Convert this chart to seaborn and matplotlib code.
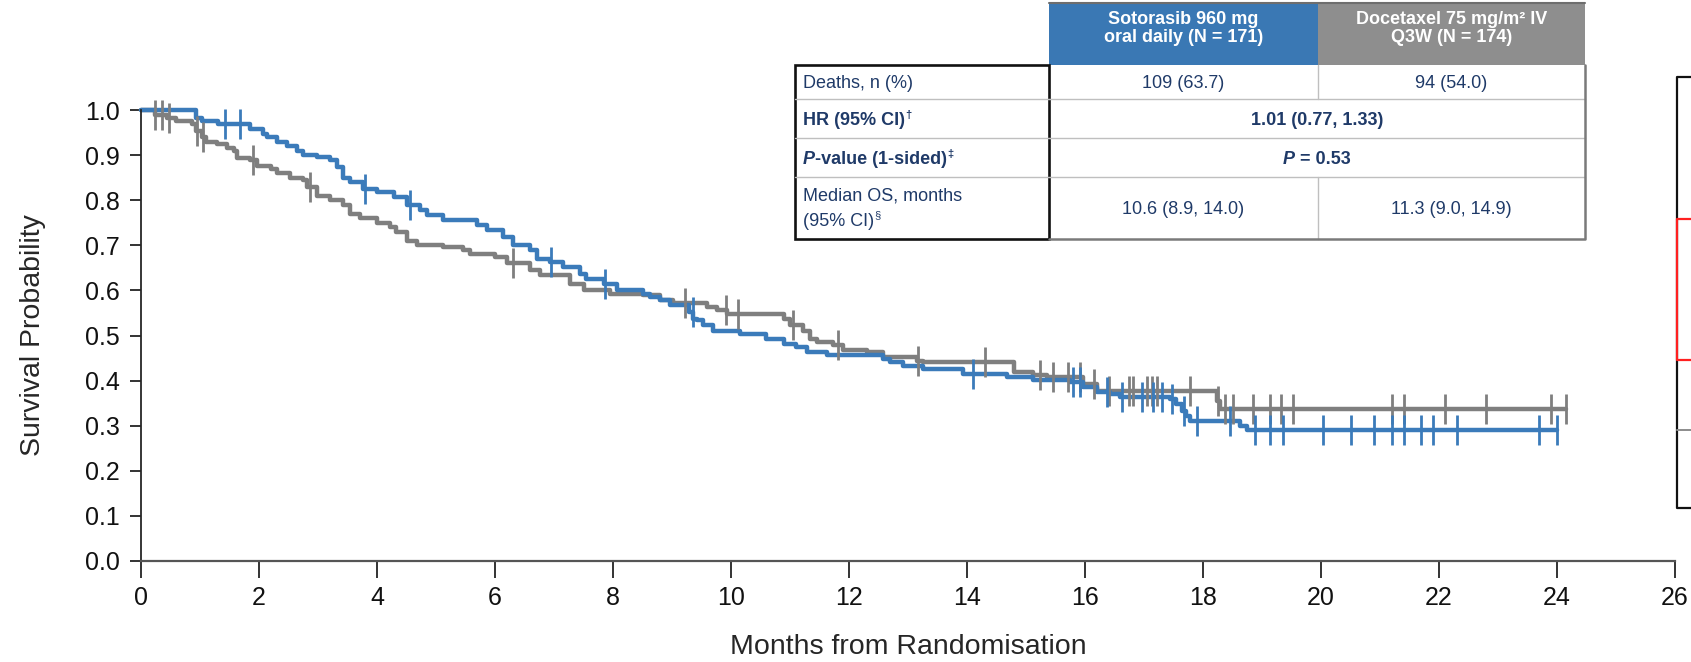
import numpy as np
import pandas as pd
import matplotlib.pyplot as plt
import matplotlib.patches as mpatches
import seaborn as sns

W, H = 1691, 662

# Kaplan-Meier steps: month of step, survival after it
soto_t = [0, 0.94, 1.03, 1.30, 1.85, 2.07, 2.13, 2.30, 2.47, 2.64, 2.75, 2.98, 3.20,
          3.32, 3.43, 3.54, 3.77, 4.00, 4.28, 4.50, 4.73, 4.84, 5.12, 5.69, 5.86, 6.14,
          6.31, 6.59, 6.71, 6.93, 7.16, 7.44, 7.55, 7.84, 8.06, 8.51, 8.63, 8.80, 8.97,
          9.28, 9.36, 9.42, 9.53, 9.70, 10.15, 10.60, 10.89, 11.11, 11.28, 11.62, 12.58,
          12.70, 12.92, 13.26, 13.94, 14.68, 15.12, 15.75, 15.97, 16.20, 16.42, 16.59,
          17.44, 17.55, 17.64, 17.72, 17.78, 18.63, 18.75]
soto_s = [1.0, 0.983, 0.975, 0.968, 0.957, 0.946, 0.94, 0.93, 0.92, 0.91, 0.90, 0.895, 0.89,
          0.874, 0.85, 0.84, 0.825, 0.818, 0.807, 0.79, 0.778, 0.767, 0.756, 0.745, 0.733, 0.718,
          0.70, 0.69, 0.67, 0.664, 0.652, 0.637, 0.626, 0.615, 0.60, 0.593, 0.586, 0.578, 0.567,
          0.552, 0.537, 0.534, 0.523, 0.511, 0.504, 0.493, 0.482, 0.474, 0.463, 0.456, 0.448,
          0.441, 0.433, 0.426, 0.415, 0.408, 0.402, 0.396, 0.385, 0.374, 0.37, 0.363,
          0.359, 0.348, 0.333, 0.322, 0.311, 0.30, 0.29]
soto_end = 24.0
soto_cens = [1.42, 1.68, 3.80, 4.56, 6.95, 7.86, 9.35, 14.10, 15.80, 15.92, 16.37, 16.62,
             16.96, 17.16, 17.30, 17.47, 17.67, 17.89, 18.46, 18.88, 19.13, 19.36, 20.04,
             20.5, 20.9, 21.2, 21.4, 21.7, 21.9, 22.3, 23.7, 24.0]

doce_t = [0, 0.24, 0.44, 0.60, 0.86, 0.94, 1.03, 1.11, 1.28, 1.45, 1.57, 1.62, 1.85, 1.97,
          2.20, 2.30, 2.53, 2.75, 2.81, 2.98, 3.20, 3.43, 3.54, 3.71, 4.00, 4.22, 4.33, 4.50,
          4.67, 5.12, 5.46, 5.57, 6.00, 6.20, 6.59, 6.76, 7.27, 7.50, 7.95, 8.51, 8.80, 9.02,
          9.59, 9.76, 9.93, 10.89, 11.00, 11.22, 11.34, 11.45, 11.73, 11.90, 12.30, 12.58,
          13.15, 13.26, 14.79, 15.12, 15.35, 15.97, 16.20, 18.23, 18.29]
doce_s = [1.0, 0.99, 0.983, 0.975, 0.968, 0.953, 0.94, 0.93, 0.925, 0.915, 0.91, 0.893, 0.89, 0.875,
          0.87, 0.86, 0.85, 0.845, 0.83, 0.81, 0.80, 0.79, 0.77, 0.76, 0.75, 0.74, 0.73, 0.71,
          0.70, 0.696, 0.69, 0.68, 0.675, 0.66, 0.645, 0.635, 0.615, 0.60, 0.593, 0.589, 0.578, 0.571,
          0.563, 0.556, 0.548, 0.537, 0.523, 0.511, 0.493, 0.485, 0.478, 0.467, 0.463, 0.452,
          0.444, 0.441, 0.419, 0.412, 0.408, 0.393, 0.378, 0.355, 0.337]
doce_end = 24.15
doce_cens = [0.24, 0.36, 0.47, 0.95, 1.05, 1.90, 2.86, 6.30, 9.22, 9.91, 10.12, 11.05, 11.82,
             13.17, 14.30, 15.24, 15.46, 15.72, 15.92, 16.15, 16.40, 16.74, 16.82, 17.05,
             17.13, 17.22, 17.78, 18.26, 18.37, 18.51, 18.85, 19.13, 19.33, 19.53, 21.2,
             21.4, 22.1, 22.8, 23.9, 24.15]

x_ticks = list(range(0, 27, 2))
y_ticks = [round(0.1 * i, 1) for i in range(11)]

BLUE = "#3B7BBA"
GREY = "#7F7F7F"
TXT = "#1F3A68"

sns.set_style("ticks")
plt.rcParams["font.family"] = ["Liberation Sans", "DejaVu Sans"]

fig = plt.figure(figsize=(W / 100, H / 100), dpi=100)
x0, x26, y1, y0 = 141, 1675, 110, 561
ax = fig.add_axes([x0 / W, 1 - y0 / H, (x26 - x0) / W, (y0 - y1) / H])


def steps(t, s, end):
    return pd.DataFrame({"month": list(t) + [end], "surv": list(s) + [s[-1]]})


def marks(t, s, cens):
    idx = np.searchsorted(np.asarray(t), np.asarray(cens), side="right") - 1
    return pd.DataFrame({"month": cens, "surv": np.asarray(s)[idx]})


for t, s, end, cens, col in [(doce_t, doce_s, doce_end, doce_cens, GREY),
                              (soto_t, soto_s, soto_end, soto_cens, BLUE)]:
    sns.lineplot(data=steps(t, s, end), x="month", y="surv", drawstyle="steps-post",
                 estimator=None, sort=False, color=col, lw=3.2, ax=ax, clip_on=False)
    sns.scatterplot(data=marks(t, s, cens), x="month", y="surv", marker="|", s=21 ** 2,
                    linewidth=2.0, color=col, ax=ax, clip_on=False, zorder=3)

ax.set_xlim(0, 26)
ax.set_ylim(0, 1)
ax.set_xticks(x_ticks)
ax.set_yticks(y_ticks)
ax.set_yticklabels([f"{v:.1f}" for v in y_ticks])
ax.tick_params(axis="y", length=8, width=1.2, pad=7, labelsize=18, colors="#111111")
ax.tick_params(axis="x", length=12, width=1.2, pad=6, labelsize=18, colors="#111111")
sns.despine(ax=ax)
ax.spines["left"].set_linewidth(1.3)
ax.spines["bottom"].set_linewidth(1.6)
ax.spines["bottom"].set_color("#555555")
ax.set_xlabel("Months from Randomisation", fontsize=20.5)
ax.set_ylabel("Survival Probability", fontsize=20.5)
ax.xaxis.set_label_coords(0.5, -(634 - y0) / (y0 - y1), transform=ax.transAxes)
ax.yaxis.set_label_coords((46 - x0) / (x26 - x0), 0.5, transform=ax.transAxes)

# overlay in pixel coordinates for the table and the clipped box at right
ov = fig.add_axes([0, 0, 1, 1], zorder=5)
ov.set_xlim(0, W)
ov.set_ylim(H, 0)
ov.axis("off")
ov.patch.set_alpha(0)
renderer = fig.canvas.get_renderer()

cl, c1, c2, cr = 795, 1049, 1318, 1585
rows = [65, 99, 138, 177, 239]

ov.add_patch(mpatches.Rectangle((c1, 3), c2 - c1, 62, fc="#3A78B4", ec="none"))
ov.add_patch(mpatches.Rectangle((c2, 3), cr - c2, 62, fc="#8E8E8E", ec="none"))
ov.plot([c1, cr], [3, 3], color="#6E6E6E", lw=1.5)
ov.add_patch(mpatches.Rectangle((c1, rows[0]), cr - c1, rows[-1] - rows[0], fc="white", ec="none"))
for r in rows[1:-1]:
    ov.plot([c1, cr], [r, r], color="#BFBFBF", lw=1)
for a, b in [(rows[0], rows[1]), (rows[3], rows[4])]:
    ov.plot([c2, c2], [a, b], color="#BFBFBF", lw=1)
ov.plot([cr, cr, c1], [rows[0], rows[-1], rows[-1]], color="#7A7A7A", lw=1.8)
ov.add_patch(mpatches.Rectangle((cl, rows[0]), c1 - cl, rows[-1] - rows[0], fc="none",
                                ec="#111111", lw=1.9))
for r in rows[1:-1]:
    ov.plot([cl, c1], [r, r], color="#BFBFBF", lw=1)


def runs(x, y, parts, ha="left", color=TXT, size=13):
    arts = []
    for txt, weight, style, sup in parts:
        fs = size * 0.62 if sup else size
        t = ov.text(0, 0, txt, fontsize=fs, fontweight=weight, fontstyle=style,
                    color=color, va="baseline", ha="left")
        arts.append((t, t.get_window_extent(renderer).width, sup))
    total = sum(w for _, w, _ in arts)
    cx = x - total / 2 if ha == "center" else x
    for t, w, sup in arts:
        t.set_position((cx, y - 7 if sup else y))
        cx += w


N, B = "normal", "bold"
lx = 803
runs(lx, 88.5, [("Deaths, n (%)", N, N, False)])
runs(lx, 125, [("HR (95% CI)", B, N, False), ("†", B, N, True)])
runs(lx, 164, [("P", B, "italic", False), ("-value (1-sided)", B, N, False), ("‡", B, N, True)])
runs(lx, 200.5, [("Median OS, months", N, N, False)])
runs(lx, 225.5, [("(95% CI)", N, N, False), ("§", N, N, True)])

m1, m2, mm = (c1 + c2) / 2, (c2 + cr) / 2, (c1 + cr) / 2
runs(m1, 88.5, [("109 (63.7)", N, N, False)], ha="center")
runs(m2, 88.5, [("94 (54.0)", N, N, False)], ha="center")
runs(mm, 125, [("1.01 (0.77, 1.33)", B, N, False)], ha="center")
runs(mm, 164, [("P", B, "italic", False), (" = 0.53", B, N, False)], ha="center")
runs(m1, 214, [("10.6 (8.9, 14.0)", N, N, False)], ha="center")
runs(m2, 214, [("11.3 (9.0, 14.9)", N, N, False)], ha="center")

runs(m1, 24, [("Sotorasib 960 mg", B, N, False)], ha="center", color="white")
runs(m1, 42, [("oral daily (N = 171)", B, N, False)], ha="center", color="white")
runs(m2, 24, [("Docetaxel 75 mg/m² IV", B, N, False)], ha="center", color="white")
runs(m2, 42, [("Q3W (N = 174)", B, N, False)], ha="center", color="white")

# box cut off at the right edge
bx = 1677
ov.plot([W + 5, bx, bx, W + 5], [77, 77, 508, 508], color="#111111", lw=1.6, clip_on=False)
ov.plot([W + 5, bx, bx, W + 5], [219, 219, 360, 360], color="#FF2020", lw=1.6, clip_on=False)
ov.plot([bx, W + 5], [430, 430], color="#8C8C8C", lw=1.4, clip_on=False)

fig.savefig("out.png", dpi=100, facecolor="white")
